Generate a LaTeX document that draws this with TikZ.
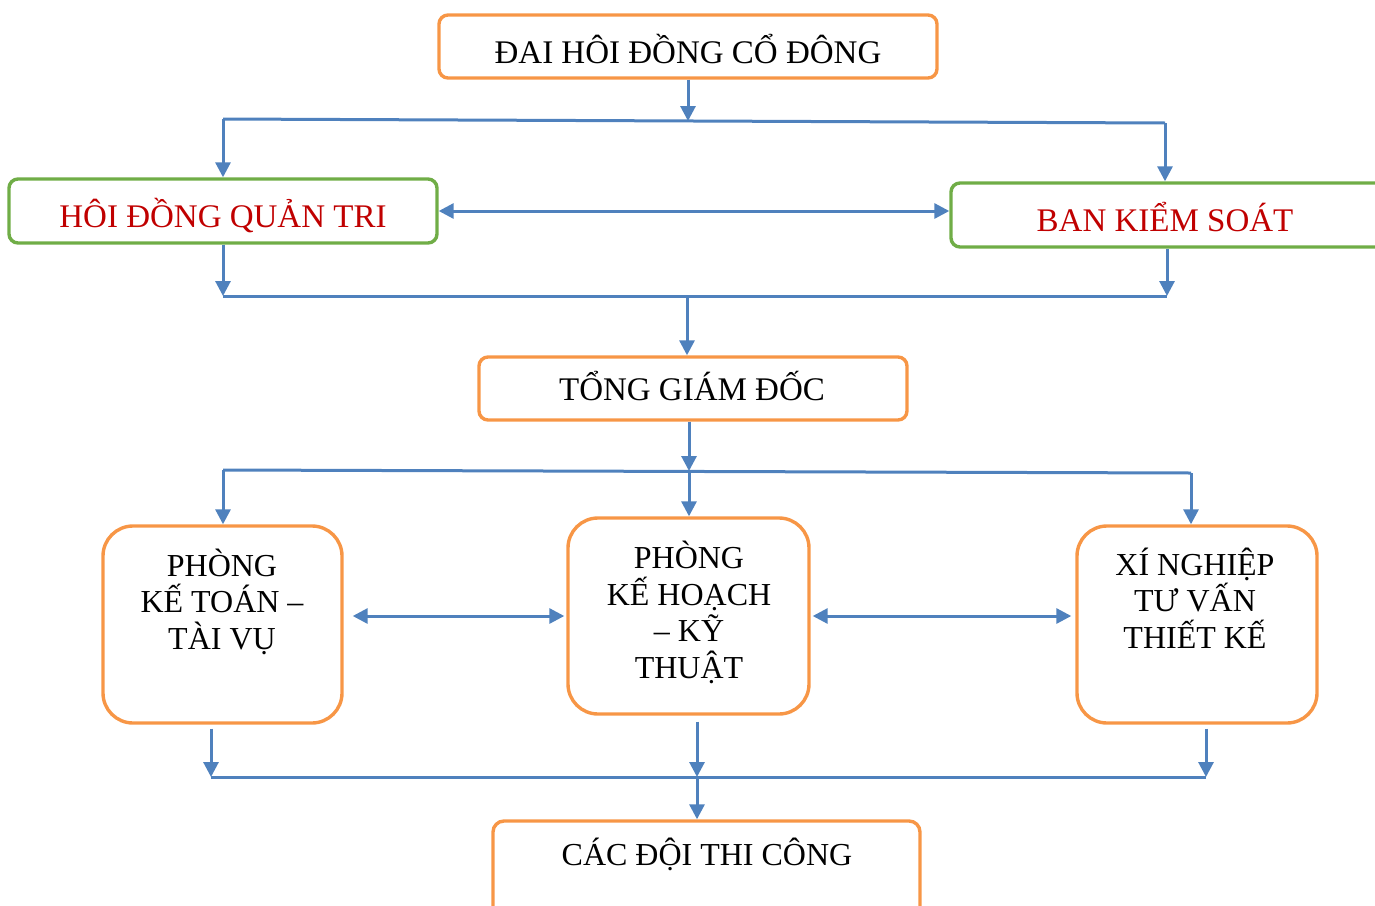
\documentclass[tikz,border=0pt]{standalone}
\usepackage{fontspec}
\setmainfont{Liberation Serif}
\usetikzlibrary{arrows.meta,calc}
\definecolor{boxorange}{HTML}{F79646}
\definecolor{boxgreen}{HTML}{70AD47}
\definecolor{linkblue}{HTML}{4F81BD}
\definecolor{titlered}{HTML}{C00000}
\begin{document}
\begin{tikzpicture}[x=1pt,y=-1pt,
  obox/.style={draw=boxorange,line width=3.4pt,rounded corners=9pt,inner sep=0pt},
  gbox/.style={draw=boxgreen,line width=3.4pt,rounded corners=9pt,inner sep=0pt},
  tbox/.style={draw=boxorange,line width=3.4pt,rounded corners=30pt,inner sep=0pt},
  lbl/.style={font=\fontsize{33}{36.5}\selectfont,anchor=base,align=center,inner sep=0pt},
  link/.style={draw=linkblue,line width=3pt},
  arr/.style={link,-{Triangle[length=15pt,width=15pt]}},
  darr/.style={link,{Triangle[length=15pt,width=15pt]}-{Triangle[length=15pt,width=15pt]}}]
\useasboundingbox (0,0) rectangle (1375,905);
% boxes
\node[obox,minimum width=498pt,minimum height=63pt] (dh) at (688,46.5) {};
\node[gbox,minimum width=428pt,minimum height=64pt] (hd) at (223,211) {};
\node[gbox,minimum width=436pt,minimum height=64pt] (bk) at (1169,215) {};
\node[obox,minimum width=428pt,minimum height=63pt] (tg) at (693,388.5) {};
\node[tbox,minimum width=239pt,minimum height=197pt] (pkt) at (222.5,624.5) {};
\node[tbox,minimum width=241pt,minimum height=196pt] (pkh) at (688.5,616) {};
\node[tbox,minimum width=240pt,minimum height=197pt] (xn) at (1197,624.5) {};
\node[obox,minimum width=427pt,minimum height=108pt,rounded corners=11pt] (ct) at (706.5,875) {};
% texts (anchor base = baseline of the last line)
\node[lbl] (t1) at (688,63) {ĐAI HÔI ĐỒNG CỔ ĐÔNG};
\node[lbl,text=titlered] (t2) at (223,227) {HÔI ĐỒNG QUẢN TRI};
\node[lbl,text=titlered] (t3) at (1165,231) {BAN KIỂM SOÁT};
\node[lbl] (t4) at (692,400) {TỔNG GIÁM ĐỐC};
\node[lbl,font=\fontsize{32}{36.5}\selectfont] (t5) at (222,649) {PHÒNG\\KẾ TOÁN –\\TÀI VỤ};
\node[lbl,font=\fontsize{32}{36.5}\selectfont] (t6) at (689,678) {PHÒNG\\KẾ HOẠCH\\– KỸ\\THUẬT};
\node[lbl,font=\fontsize{32}{36.5}\selectfont] (t7) at (1195,648) {XÍ NGHIỆP\\TƯ VẤN\\THIẾT KẾ};
\node[lbl,font=\fontsize{32}{36.5}\selectfont] (t8) at (707,865) {CÁC ĐỘI THI CÔNG};
% bus coordinates
\coordinate (b1L) at (223,119);
\coordinate (b1R) at (1165,123);
\coordinate (b1M) at (688,121);
\coordinate (b2L) at (223,296);
\coordinate (b2R) at (1167,296);
\coordinate (b2M) at (687,296);
\coordinate (b3L) at (223,470);
\coordinate (b3R) at (1191,473);
\coordinate (b3M) at (689,471);
\coordinate (b4L) at (211,777);
\coordinate (b4R) at (1206,777);
\coordinate (b4M) at (697,777);
% level 1
\draw[arr] (dh.south -| b1M) -- (b1M);
\draw[link] (b1L) -- (b1R);
\draw[arr] (b1L) -- (b1L |- hd.north);
\draw[arr] (b1R) -- (b1R |- bk.north);
\draw[darr] (hd.east) -- (hd.east -| bk.west);
% level 2
\draw[arr] (hd.south) -- (hd.south |- b2L);
\draw[arr] (b2R |- bk.south) -- (b2R);
\draw[link] (b2L) -- (b2R);
\draw[arr] (b2M) -- (b2M |- tg.north);
% level 3
\draw[arr] (tg.south -| b3M) -- (b3M);
\draw[link] (b3L) -- (b3R);
\draw[arr] (b3L) -- (b3L |- pkt.north);
\draw[arr] (b3M) -- (b3M |- pkh.north);
\draw[arr] (b3R) -- (b3R |- xn.north);
\draw[darr] ([xshift=9pt]pkt.east |- pkh.center) -- ([xshift=-2pt]pkh.west);
\draw[darr] ([xshift=2pt]pkh.east) -- ([xshift=-4pt]xn.west |- pkh.center);
% level 4
\draw[arr] ([yshift=-4pt]pkt.south -| b4L) -- (b4L);
\draw[arr] ([yshift=-6pt]pkh.south -| b4M) -- (b4M);
\draw[arr] ([yshift=-4pt]xn.south -| b4R) -- (b4R);
\draw[link] (b4L) -- (b4R);
\draw[arr] (b4M) -- (b4M |- ct.north);
\end{tikzpicture}
\end{document}
